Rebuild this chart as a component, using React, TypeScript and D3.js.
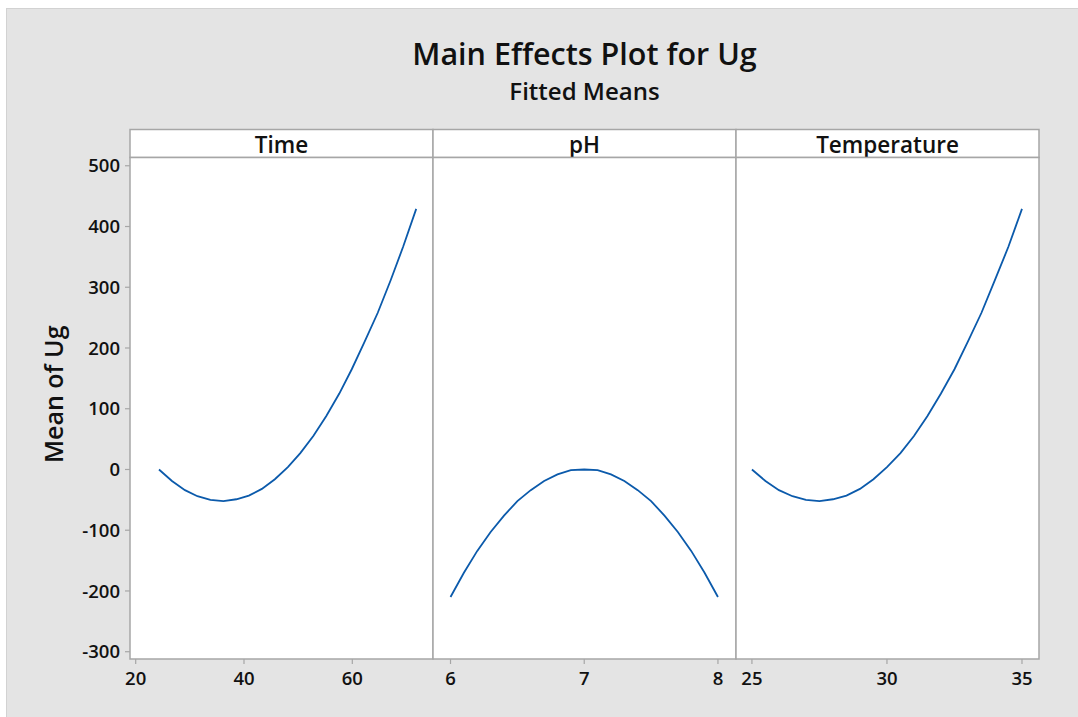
import React from 'react';
import * as d3 from 'd3';

const W = 1078;
const H = 717;

// fitted means
const timeLevels = [24.3, 26.7, 29.1, 31.4, 33.8, 36.2, 38.6, 40.9, 43.3, 45.7, 48.1, 50.4, 52.8, 55.2, 57.6, 59.9, 62.3, 64.7, 67.1, 69.4, 71.8];
const timeMeans = [0, -19, -34, -44, -50, -52, -49, -43, -32, -16, 4, 27, 55, 88, 125, 165, 211, 258, 312, 367, 429];

const phLevels = [6.0, 6.1, 6.2, 6.3, 6.4, 6.5, 6.6, 6.7, 6.8, 6.9, 7.0, 7.1, 7.2, 7.3, 7.4, 7.5, 7.6, 7.7, 7.8, 7.9, 8.0];
const phMeans = [-210, -170, -134, -103, -76, -52, -34, -19, -8, -1, 0, -1, -8, -19, -34, -52, -76, -103, -134, -170, -210];

const tempLevels = [25, 25.5, 26, 26.5, 27, 27.5, 28, 28.5, 29, 29.5, 30, 30.5, 31, 31.5, 32, 32.5, 33, 33.5, 34, 34.5, 35];
const tempMeans = [0, -19, -34, -44, -50, -52, -49, -43, -32, -16, 4, 27, 55, 88, 125, 165, 211, 258, 312, 367, 429];

const timeTicks = [20, 40, 60];
const phTicks = [6, 7, 8];
const tempTicks = [25, 30, 35];
const yTicks = [-300, -200, -100, 0, 100, 200, 300, 400, 500];

const timeAxis = [18.95, 74.9];
const phAxis = [5.869, 8.135];
const tempAxis = [24.41, 35.63];
const yAxis = [-312, 513.6];

const panels = [
  { name: 'Time', levels: timeLevels, means: timeMeans, ticks: timeTicks, axis: timeAxis },
  { name: 'pH', levels: phLevels, means: phMeans, ticks: phTicks, axis: phAxis },
  { name: 'Temperature', levels: tempLevels, means: tempMeans, ticks: tempTicks, axis: tempAxis },
];

const left = 130;
const right = 1039;
const headerTop = 129.5;
const plotTop = 157.5;
const plotBottom = 659;
const font = '"Open Sans", "Noto Sans", sans-serif';
const gridGray = '#a6a6a6';

export default function App() {
  const panelW = (right - left) / panels.length;

  const yScale = d3.scaleLinear().domain(yAxis).range([plotBottom, plotTop]);

  return (
    <svg width={W} height={H} style={{ position: 'absolute', left: 0, top: 0 }} fontFamily={font}>
      <rect x={0} y={0} width={W} height={H} fill="#fff" />
      <rect x={6.5} y={8.5} width={W} height={H} fill="#e4e4e4" stroke="#d2d2d2" />

      {/* Titles */}
      <text x={(left + right) / 2} y={65} textAnchor="middle" fontSize={30.5} fontWeight={600} fill="#111">
        Main Effects Plot for Ug
      </text>
      <text x={(left + right) / 2} y={100} textAnchor="middle" fontSize={24} fontWeight={600} fill="#111">
        Fitted Means
      </text>

      {/* Y label */}
      <text
        transform={`translate(63, ${(headerTop + plotBottom) / 2}) rotate(-90)`}
        textAnchor="middle"
        fontSize={25}
        fontWeight={600}
        fill="#111"
      >
        Mean of Ug
      </text>

      {/* Y ticks */}
      {yTicks.map(t => (
        <g key={t}>
          <line x1={left - 5} x2={left} y1={yScale(t)} y2={yScale(t)} stroke={gridGray} strokeWidth={1.2} />
          <text x={left - 10} y={yScale(t)} dy="0.36em" textAnchor="end" fontSize={18.5} fontWeight={600} fill="#111">
            {t}
          </text>
        </g>
      ))}

      {panels.map((p, i) => {
        const x0 = left + i * panelW;
        const x1 = x0 + panelW;
        const xScale = d3.scaleLinear().domain(p.axis).range([x0, x1]);
        const pts = p.levels.map((lv, j) => [lv, p.means[j]] as [number, number]);
        const line = d3.line<[number, number]>()
          .x(d => xScale(d[0]))
          .y(d => yScale(d[1]));

        return (
          <g key={p.name}>
            <rect x={x0} y={headerTop} width={panelW} height={plotTop - headerTop} fill="#fff" stroke={gridGray} strokeWidth={1.5} />
            <text x={(x0 + x1) / 2} y={153} textAnchor="middle" fontSize={22.5} fontWeight={600} fill="#111">
              {p.name}
            </text>
            <rect x={x0} y={plotTop} width={panelW} height={plotBottom - plotTop} fill="#fff" stroke={gridGray} strokeWidth={1.5} />

            {/* X ticks */}
            {p.ticks.map(t => (
              <g key={t}>
                <line x1={xScale(t)} x2={xScale(t)} y1={plotBottom} y2={plotBottom + 5} stroke={gridGray} strokeWidth={1.2} />
                <text x={xScale(t)} y={685} textAnchor="middle" fontSize={18.5} fontWeight={600} fill="#111">
                  {t}
                </text>
              </g>
            ))}

            <path d={line(pts) || ''} fill="none" stroke="#0b5aab" strokeWidth={1.8} />
          </g>
        );
      })}
    </svg>
  );
}
